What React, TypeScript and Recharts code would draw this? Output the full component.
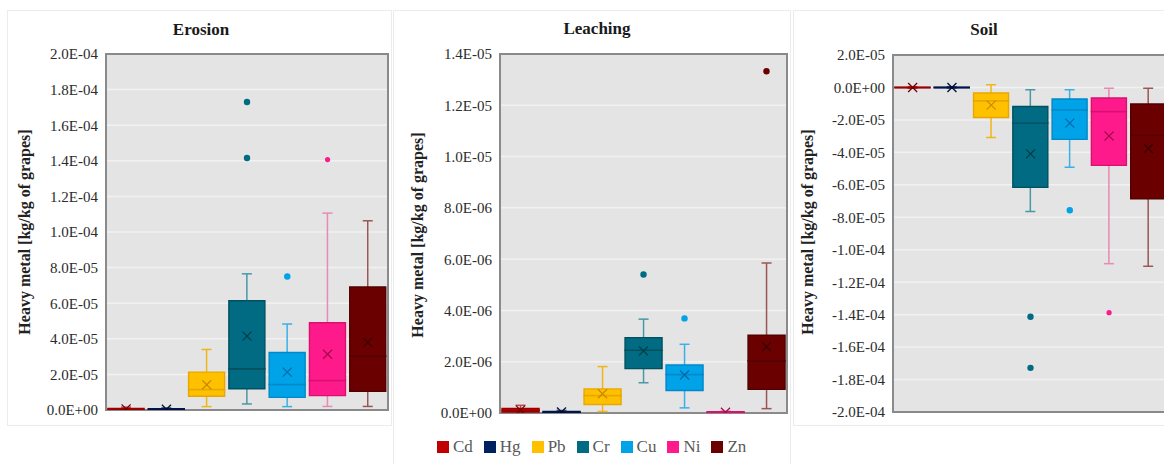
import React from "react";
import {
  Bar,
  CartesianGrid,
  ComposedChart,
  ReferenceArea,
  Scatter,
  XAxis,
  YAxis,
} from "recharts";

const metals = ["Cd", "Hg", "Pb", "Cr", "Cu", "Ni", "Zn"];
const fillColors = ["#C00000", "#002060", "#FFC000", "#006B82", "#00A2E8", "#FF1A8C", "#6B0000"];
const edgeColors = ["#9A0000", "#001548", "#E6A800", "#00505F", "#0088C8", "#D8106F", "#520000"];
const whiskerColors = ["#C04848", "#4A5A86", "#F2B519", "#4A97A6", "#3AB0E6", "#E98AB2", "#9A5656"];
const markColors = ["#700000", "#000C30", "#C98A00", "#003C48", "#0068A8", "#A8084F", "#360000"];

// Erosion
const erosionMin = [0, 0, 1.9e-6, 3.4e-6, 1.9e-6, 2.0e-6, 2.0e-6];
const erosionQ1 = [0, 0, 7.7e-6, 1.19e-5, 7.1e-6, 8.1e-6, 1.05e-5];
const erosionMedian = [4e-7, 3e-7, 1.15e-5, 2.32e-5, 1.43e-5, 1.66e-5, 3.02e-5];
const erosionQ3 = [9e-7, 7e-7, 2.13e-5, 6.14e-5, 3.23e-5, 4.9e-5, 6.91e-5];
const erosionMax = [1.6e-6, 1.2e-6, 3.4e-5, 7.65e-5, 4.83e-5, 1.106e-4, 1.063e-4];
const erosionMean = [6e-7, 4e-7, 1.42e-5, 4.15e-5, 2.13e-5, 3.13e-5, 3.8e-5];
const erosionOutliers = [[], [], [], [1.73e-4, 1.416e-4], [7.5e-5], [1.407e-4], []];
const erosionTicks = [0, 2e-5, 4e-5, 6e-5, 8e-5, 1e-4, 1.2e-4, 1.4e-4, 1.6e-4, 1.8e-4, 2e-4];

// Leaching
const leachMin = [0, 0, 6e-8, 1.18e-6, 2.0e-7, 0, 1.7e-7];
const leachQ1 = [4e-8, 0, 3.3e-7, 1.73e-6, 8.8e-7, 0, 9.2e-7];
const leachMedian = [1.0e-7, 3e-8, 6.8e-7, 2.45e-6, 1.5e-6, 2e-8, 2.03e-6];
const leachQ3 = [1.8e-7, 6e-8, 9.4e-7, 2.94e-6, 1.87e-6, 5e-8, 3.03e-6];
const leachMax = [3e-7, 1e-7, 1.81e-6, 3.66e-6, 2.68e-6, 8e-8, 5.85e-6];
const leachMean = [1.1e-7, 4e-8, 7.5e-7, 2.42e-6, 1.48e-6, 3e-8, 2.59e-6];
const leachOutliers = [[], [], [], [5.4e-6], [3.69e-6], [], [1.333e-5]];
const leachTicks = [0, 2e-6, 4e-6, 6e-6, 8e-6, 1e-5, 1.2e-5, 1.4e-5];

// Soil
const soilMin = [-5e-7, -4e-7, -3.09e-5, -7.65e-5, -4.92e-5, -1.086e-4, -1.102e-4];
const soilQ1 = [-2e-7, -2e-7, -1.85e-5, -6.16e-5, -3.2e-5, -4.8e-5, -6.86e-5];
const soilMedian = [0, 0, -8.2e-6, -2.2e-5, -1.38e-5, -1.48e-5, -2.95e-5];
const soilQ3 = [2e-7, 2e-7, -3.4e-6, -1.17e-5, -7.1e-6, -6.5e-6, -1.02e-5];
const soilMax = [5e-7, 4e-7, 1.6e-6, -1.4e-6, -1.4e-6, -5e-7, -5e-7];
const soilMean = [0, 0, -1.09e-5, -4.09e-5, -2.2e-5, -2.99e-5, -3.76e-5];
const soilOutliers = [[], [], [], [-1.413e-4, -1.728e-4], [-7.57e-5], [-1.388e-4], []];
const soilTicks = [
  -2e-4, -1.8e-4, -1.6e-4, -1.4e-4, -1.2e-4, -1e-4, -8e-5, -6e-5, -4e-5, -2e-5, 0, 2e-5,
];

const FONT = "'Liberation Serif', 'Times New Roman', serif";

function buildRows(
  min: number[],
  q1: number[],
  med: number[],
  q3: number[],
  max: number[],
  mean: number[],
  outliers: number[][],
) {
  return metals.map((name, i) => ({
    name,
    whisker: [min[i], max[i]],
    lower: [q1[i], med[i]],
    upper: [med[i], q3[i]],
    mean: mean[i],
    out1: outliers[i][0] ?? null,
    out2: outliers[i][1] ?? null,
  }));
}

function sci(v: number) {
  if (Math.abs(v) < 1e-12) return "0.0E+00";
  const [m, e] = v.toExponential(1).split("e");
  const n = parseInt(e, 10);
  return `${m}E${n < 0 ? "-" : "+"}${String(Math.abs(n)).padStart(2, "0")}`;
}

const colorIdx = (p: any) => Math.max(0, metals.indexOf(p?.payload?.name));

function YTick(p: any) {
  return (
    <text
      x={p.x}
      y={p.y}
      dy="0.36em"
      textAnchor="end"
      fill="#2b2b2b"
      style={{ fontFamily: FONT, fontSize: 15 }}
    >
      {sci(p.payload.value)}
    </text>
  );
}

function renderWhisker(p: any) {
  const i = colorIdx(p);
  const cx = p.x + p.width / 2;
  const top = Math.min(p.y, p.y + p.height);
  const bot = Math.max(p.y, p.y + p.height);
  return (
    <g stroke={whiskerColors[i]} strokeWidth={1.5}>
      <line x1={cx} x2={cx} y1={top} y2={bot} />
      <line x1={cx - 5} x2={cx + 5} y1={top} y2={top} />
      <line x1={cx - 5} x2={cx + 5} y1={bot} y2={bot} />
    </g>
  );
}

function renderBox(p: any) {
  const i = colorIdx(p);
  const top = Math.min(p.y, p.y + p.height);
  const h = Math.abs(p.height);
  const d = `M${p.x},${top}H${p.x + p.width}V${top + h}H${p.x}Z`;
  return <path d={d} fill={fillColors[i]} stroke={edgeColors[i]} strokeWidth={1.4} />;
}

function renderMean(p: any) {
  const i = colorIdx(p);
  const { cx, cy } = p;
  if (cx == null || cy == null || isNaN(cy)) return <g />;
  const s = 4.5;
  return (
    <g stroke={markColors[i]} strokeWidth={1.2}>
      <line x1={cx - s} y1={cy - s} x2={cx + s} y2={cy + s} />
      <line x1={cx - s} y1={cy + s} x2={cx + s} y2={cy - s} />
    </g>
  );
}

const renderOutlier = (key: string) => (p: any) => {
  const i = colorIdx(p);
  if (p?.payload?.[key] == null || p.cy == null || isNaN(p.cy)) return <g />;
  return <circle cx={p.cx} cy={p.cy} r={metals[i] === "Ni" ? 2.6 : 3.2} fill={fillColors[i]} />;
};

function BoxPanel({
  rows,
  ticks,
  domain,
  width,
  height,
  margin,
}: {
  rows: any[];
  ticks: number[];
  domain: [number, number];
  width: number;
  height: number;
  margin: { top: number; right: number; bottom: number; left: number };
}) {
  return (
    <ComposedChart width={width} height={height} data={rows} margin={margin} barCategoryGap="5%">
      <CartesianGrid
        xAxisId="w"
        vertical={false}
        stroke="#f1f1f1"
        strokeWidth={1.5}
        fill="#e4e4e4"
        fillOpacity={1}
      />
      <XAxis xAxisId="w" dataKey="name" hide />
      <XAxis xAxisId="lo" dataKey="name" hide />
      <XAxis xAxisId="hi" dataKey="name" hide />
      <YAxis
        domain={domain}
        ticks={ticks}
        interval={0}
        allowDataOverflow
        width={60}
        axisLine={false}
        tickLine={false}
        tick={<YTick />}
      />
      <Bar xAxisId="w" dataKey="whisker" shape={renderWhisker} isAnimationActive={false} />
      <Bar xAxisId="lo" dataKey="lower" shape={renderBox} isAnimationActive={false} />
      <Bar xAxisId="hi" dataKey="upper" shape={renderBox} isAnimationActive={false} />
      <Scatter xAxisId="w" dataKey="mean" shape={renderMean} isAnimationActive={false} />
      <Scatter xAxisId="w" dataKey="out1" shape={renderOutlier("out1")} isAnimationActive={false} />
      <Scatter xAxisId="w" dataKey="out2" shape={renderOutlier("out2")} isAnimationActive={false} />
      <ReferenceArea
        xAxisId="w"
        y1={domain[0]}
        y2={domain[1]}
        fill="none"
        stroke="#8a8a8a"
        strokeWidth={2}
        ifOverflow="visible"
      />
    </ComposedChart>
  );
}

const erosionRows = buildRows(erosionMin, erosionQ1, erosionMedian, erosionQ3, erosionMax, erosionMean, erosionOutliers);
const leachRows = buildRows(leachMin, leachQ1, leachMedian, leachQ3, leachMax, leachMean, leachOutliers);
const soilRows = buildRows(soilMin, soilQ1, soilMedian, soilQ3, soilMax, soilMean, soilOutliers);

const abs = (left: number, top: number, extra: React.CSSProperties = {}): React.CSSProperties => ({
  position: "absolute",
  left,
  top,
  ...extra,
});

function Title({ x, y, text }: { x: number; y: number; text: string }) {
  return (
    <div
      style={abs(x, y, {
        transform: "translate(-50%, -50%)",
        fontFamily: FONT,
        fontWeight: "bold",
        fontSize: 17,
        color: "#1a1a1a",
        whiteSpace: "nowrap",
      })}
    >
      {text}
    </div>
  );
}

function AxisLabel({ x, y }: { x: number; y: number }) {
  return (
    <div
      style={abs(x, y, {
        transform: "translate(-50%, -50%) rotate(-90deg)",
        fontFamily: FONT,
        fontWeight: "bold",
        fontSize: 16,
        color: "#222",
        whiteSpace: "nowrap",
      })}
    >
      Heavy metal [kg/kg of grapes]
    </div>
  );
}

export default function App() {
  return (
    <div
      style={{
        position: "fixed",
        left: 0,
        top: 0,
        width: 1164,
        height: 464,
        overflow: "hidden",
        background: "#fff",
      }}
    >
      {/* card frames */}
      <div style={abs(7, 10, { width: 383, height: 414, border: "1px solid #ececec" })} />
      <div style={abs(393, 10, { width: 396, height: 470, border: "1px solid #ececec" })} />
      <div style={abs(793, 10, { width: 400, height: 414, border: "1px solid #ececec" })} />

      <div style={abs(0, 0)}>
        <BoxPanel
          rows={erosionRows}
          ticks={erosionTicks}
          domain={[0, 2e-4]}
          width={392}
          height={430}
          margin={{ top: 54, right: 4, bottom: 20, left: 46 }}
        />
      </div>
      <div style={abs(392, 0)}>
        <BoxPanel
          rows={leachRows}
          ticks={leachTicks}
          domain={[0, 1.4e-5]}
          width={400}
          height={430}
          margin={{ top: 54, right: 5, bottom: 17, left: 48 }}
        />
      </div>
      <div style={abs(792, 0)}>
        <BoxPanel
          rows={soilRows}
          ticks={soilTicks}
          domain={[-2e-4, 2e-5]}
          width={381}
          height={430}
          margin={{ top: 55, right: 5, bottom: 18, left: 41 }}
        />
      </div>

      <Title x={201} y={30} text="Erosion" />
      <Title x={597} y={29} text="Leaching" />
      <Title x={984} y={30} text="Soil" />

      <AxisLabel x={25} y={232} />
      <AxisLabel x={418} y={235} />
      <AxisLabel x={808} y={232} />

      <div
        style={abs(437, 437, {
          display: "flex",
          alignItems: "center",
          gap: 11,
          fontFamily: FONT,
          fontSize: 17,
          color: "#595959",
        })}
      >
        {metals.map((m, i) => (
          <div key={m} style={{ display: "flex", alignItems: "center", gap: 4 }}>
            <span style={{ width: 12, height: 12, background: fillColors[i], display: "inline-block" }} />
            <span>{m}</span>
          </div>
        ))}
      </div>
    </div>
  );
}
